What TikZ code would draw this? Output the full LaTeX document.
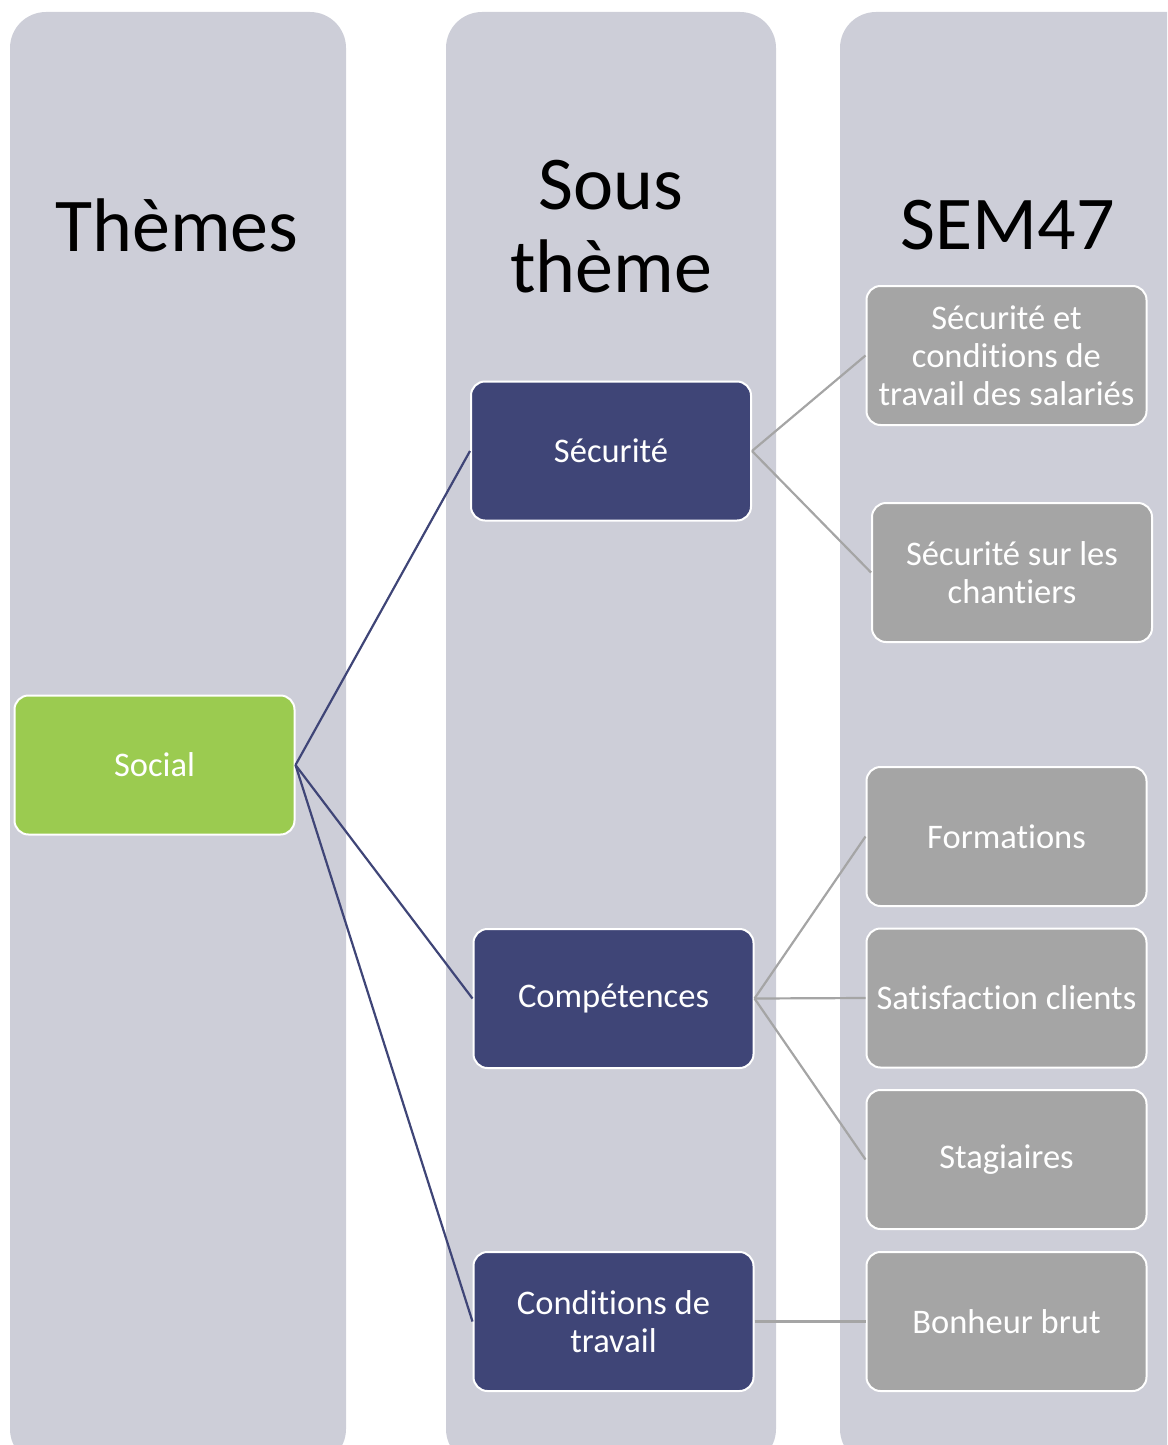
\documentclass[tikz,border=0pt]{standalone}
\usepackage{fontspec}
\setmainfont{Carlito}[Ligatures=NoCommon]
\definecolor{colbg}{RGB}{205,206,216}
\definecolor{socgreen}{RGB}{155,203,80}
\definecolor{subnavy}{RGB}{63,69,119}
\definecolor{leafgray}{RGB}{165,165,165}
\newcommand{\boxfont}{\fontsize{34.5}{38}\selectfont}
\newcommand{\headfont}{\fontsize{76}{83}\selectfont}
\tikzset{
    colbox/.style={fill=colbg, rounded corners=36pt},
    heading/.style={font=\headfont, align=center, text=black},
    itembox/.style={draw=white, line width=2pt, rounded corners=14pt,
        minimum width=280pt, minimum height=139pt, align=center,
        text=white, font=\boxfont, inner sep=2pt},
    theme/.style={itembox, fill=socgreen},
    subtheme/.style={itembox, fill=subnavy},
    leaf/.style={itembox, fill=leafgray},
    navyline/.style={subnavy, line width=2.2pt},
    grayline/.style={leafgray, line width=2.2pt},
}

\begin{document}
\begin{tikzpicture}[x=1pt, y=-1pt]

\useasboundingbox (0,0) rectangle (1167,1445);
\clip (0,0) rectangle (1167,1445);

% column backgrounds
\fill[colbox] (10,12) rectangle (346,1465);
\fill[colbox] (446,12) rectangle (776,1465);
\fill[colbox] (840,12) rectangle (1220,1465);

% headings
\node[heading] (hthemes) at (177,225) {Thèmes};
\node[heading] (hsous) at (611,227) {Sous\\thème};
\node[heading] (hsem) at (1008,225) {SEM47};

% themes
\node[theme] (social) at (154.5,765) {Social};

% sub themes
\node[subtheme] (securite) at (611,451) {Sécurité};
\node[subtheme] (competences) at (613.5,998.5) {Compétences};
\node[subtheme] (conditions) at (613.5,1321.5) {Conditions de\\travail};

% SEM47 items
\node[leaf] (secsal) at (1006.5,355.5) {Sécurité et\\conditions de\\travail des salariés};
\node[leaf] (secchan) at (1012,572.5) {Sécurité sur les\\chantiers};
\node[leaf] (formations) at (1006.5,836.5) {Formations};
\node[leaf] (satisf) at (1006.5,998) {Satisfaction clients};
\node[leaf] (stagiaires) at (1006.5,1159.5) {Stagiaires};
\node[leaf] (bonheur) at (1006.5,1321.5) {Bonheur brut};

% connectors
\foreach \sub in {securite, competences, conditions}
    \draw[navyline] (social.east) -- (\sub.west);
\foreach \leaf in {secsal, secchan}
    \draw[grayline] (securite.east) -- (\leaf.west);
\foreach \leaf in {formations, satisf, stagiaires}
    \draw[grayline] (competences.east) -- (\leaf.west);
\draw[grayline] (conditions.east) -- (bonheur.west);

\end{tikzpicture}
\end{document}
